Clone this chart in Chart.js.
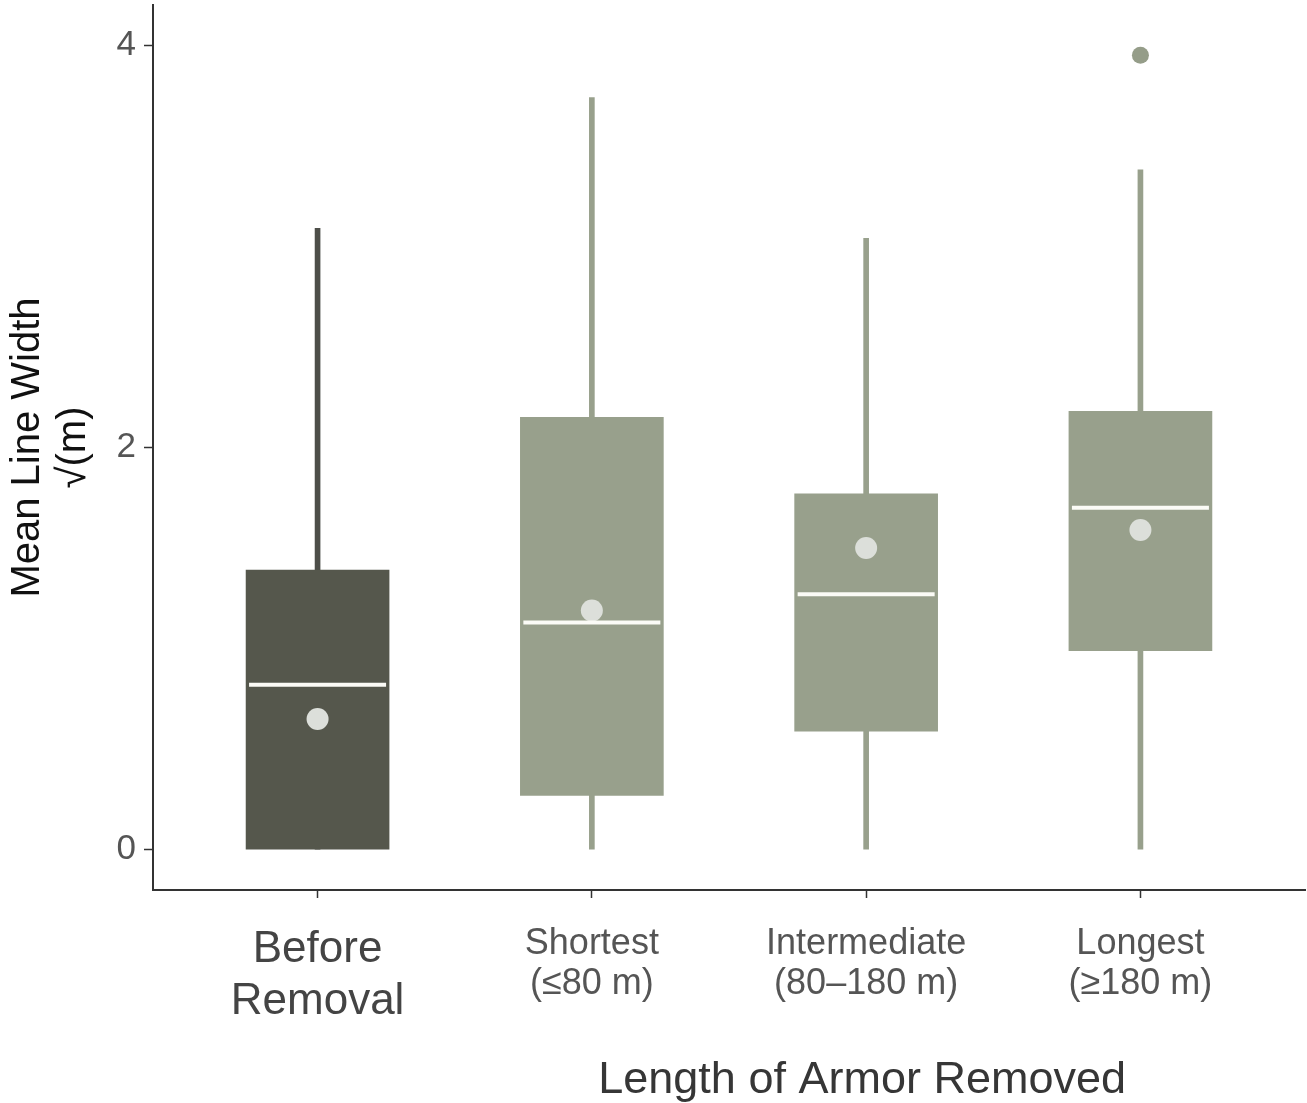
<!DOCTYPE html>
<html>
<head>
<meta charset="utf-8">
<script src="https://cdn.jsdelivr.net/npm/chart.js@4.4.1/dist/chart.umd.min.js"></script>
<style>
  html, body { margin: 0; padding: 0; background: #ffffff; }
  #wrap { width: 1307px; height: 1103px; position: relative; }
</style>
</head>
<body>
<div id="wrap"><canvas id="chart"></canvas></div>
<script>
// Box-plot summary of mean line width (square-root metres) per removal group
const categories = [
  ["Before", "Removal"],
  ["Shortest", "(≤80 m)"],
  ["Intermediate", "(80–180 m)"],
  ["Longest", "(≥180 m)"]
];
const whiskerLow  = [0.00, 0.00, 0.00, 0.00];
const whiskerHigh = [3.09, 3.74, 3.04, 3.38];
const q1          = [0.00, 0.27, 0.59, 0.99];
const q3          = [1.39, 2.15, 1.77, 2.18];
const medians     = [0.82, 1.13, 1.27, 1.70];
const means       = [0.65, 1.19, 1.50, 1.59];
const outlierGroup = [4];
const outlierValue = [3.95];
const yTicks = [0, 2, 4];

const DARK = '#55574c';
const LIGHT = '#98a08c';
const DARK_WHISKER = '#4d4e49';
const FONT = "'Liberation Sans', Arial, Helvetica, sans-serif";

const pos = categories.map((_, i) => i + 1);
const fillFor = i => (i === 0 ? DARK : LIGHT);

const xTitlePlugin = {
  id: 'xTitle',
  afterDraw(chart) {
    const { ctx } = chart;
    const xs = chart.scales.x;
    ctx.save();
    ctx.font = "45px " + FONT;
    ctx.fillStyle = '#363636';
    ctx.textAlign = 'center';
    ctx.textBaseline = 'alphabetic';
    ctx.fillText('Length of Armor Removed', xs.getPixelForValue(3) - 4, 1093);
    ctx.restore();
  }
};

new Chart(document.getElementById('chart'), {
  type: 'bar',
  data: {
    datasets: [
      {
        label: 'whisker',
        data: pos.map((x, i) => ({ x, y: [whiskerLow[i], whiskerHigh[i]] })),
        backgroundColor: pos.map((_, i) => (i === 0 ? DARK_WHISKER : LIGHT)),
        barThickness: 5,
        grouped: false,
        order: 5
      },
      {
        label: 'box',
        data: pos.map((x, i) => ({ x, y: [q1[i], q3[i]] })),
        backgroundColor: pos.map((_, i) => fillFor(i)),
        barThickness: 143,
        grouped: false,
        order: 4
      },
      {
        type: 'line',
        label: 'mean',
        data: pos.map((x, i) => ({ x, y: means[i] })),
        showLine: false,
        pointRadius: 11,
        pointBackgroundColor: '#dcdfda',
        pointBorderWidth: 0,
        order: 3
      },
      {
        type: 'line',
        label: 'median',
        data: pos.map((x, i) => ({ x, y: medians[i] })),
        showLine: false,
        pointStyle: 'line',
        pointRadius: 68.5,
        pointBorderColor: '#fbfbf6',
        pointBorderWidth: 4,
        order: 2
      },
      {
        type: 'line',
        label: 'outlier',
        data: outlierGroup.map((x, i) => ({ x, y: outlierValue[i] })),
        showLine: false,
        pointRadius: 8.5,
        pointBackgroundColor: '#959d89',
        pointBorderWidth: 0,
        order: 1
      }
    ]
  },
  options: {
    responsive: true,
    maintainAspectRatio: false,
    animation: false,
    layout: { autoPadding: false, padding: { top: 5, right: 2, left: 0, bottom: 0 } },
    plugins: {
      legend: { display: false },
      tooltip: { enabled: false }
    },
    scales: {
      x: {
        type: 'linear',
        offset: false,
        min: 0.4,
        max: 4.6,
        afterBuildTicks: s => { s.ticks = pos.map(v => ({ value: v })); },
        afterFit: s => {
          s.height = 213;
          s.paddingLeft = 0; s.paddingRight = 0;
          s.paddingTop = 0; s.paddingBottom = 0;
        },
        border: { display: true, color: '#333333', width: 2 },
        grid: {
          offset: false,
          drawOnChartArea: false,
          drawTicks: true,
          tickLength: 8,
          tickColor: '#333333',
          tickWidth: 1.5
        },
        ticks: {
          autoSkip: false,
          maxRotation: 0,
          padding: 26,
          color: ctx => (ctx.index === 0 ? '#444444' : '#555555'),
          font: ctx => (ctx.index === 0
            ? { family: FONT, size: 44, lineHeight: 1.18 }
            : { family: FONT, size: 36, lineHeight: 1.11 }),
          callback: v => categories[Math.round(v) - 1] || ''
        }
      },
      y: {
        type: 'linear',
        min: -0.2,
        max: 4.2,
        afterBuildTicks: s => { s.ticks = yTicks.map(v => ({ value: v })); },
        afterFit: s => {
          s.width = 153;
          s.paddingLeft = 0; s.paddingRight = 0;
          s.paddingTop = 0; s.paddingBottom = 0;
        },
        border: { display: true, color: '#333333', width: 2 },
        grid: {
          drawOnChartArea: false,
          drawTicks: true,
          tickLength: 9,
          tickColor: '#333333',
          tickWidth: 1.5
        },
        ticks: {
          padding: 8,
          color: '#555555',
          font: { family: FONT, size: 35 },
          callback: v => String(v)
        },
        title: {
          display: true,
          text: ['Mean Line Width', '√(m)'],
          color: '#111111',
          font: { family: FONT, size: 40, lineHeight: 1.15 },
          padding: { top: 5, bottom: 0 }
        }
      }
    }
  },
  plugins: [xTitlePlugin]
});
</script>
</body>
</html>
